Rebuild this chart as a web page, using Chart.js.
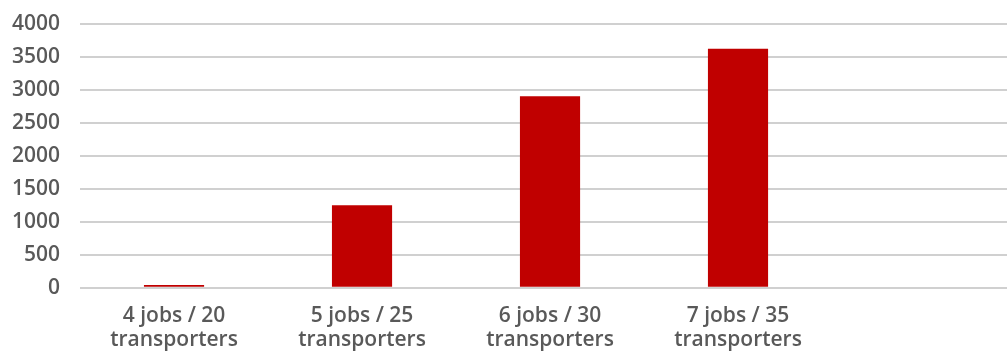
<!DOCTYPE html>
<html>
<head>
<meta charset="utf-8">
<script src="https://cdn.jsdelivr.net/npm/chart.js@4"></script>
<style>
  html, body { margin: 0; padding: 0; background: #fff; overflow: hidden; width: 1007px; height: 351px; }
  #wrap { width: 1038px; height: 369px; position: relative; margin-left: -18px; margin-top: -9px; }
</style>
</head>
<body>
<div id="wrap"><canvas id="grafico"></canvas></div>
<script>
// categorias (la quinta queda vacia, como en el original)
const categorias = [
  ['4 jobs / 20', 'transporters'],
  ['5 jobs / 25', 'transporters'],
  ['6 jobs / 30', 'transporters'],
  ['7 jobs / 35', 'transporters'],
  ''
];
const valores = [40, 1250, 2900, 3620, null];
const ticksY = [0, 500, 1000, 1500, 2000, 2500, 3000, 3500, 4000];

new Chart(document.getElementById('grafico'), {
  type: 'bar',
  data: {
    labels: categorias,
    datasets: [{
      data: valores,
      backgroundColor: '#c00000',
      borderWidth: 0,
      barPercentage: 0.32,
      categoryPercentage: 1
    }]
  },
  options: {
    responsive: true,
    maintainAspectRatio: false,
    animation: false,
    layout: { padding: { top: 5, left: 10, right: 0, bottom: 0 } },
    plugins: {
      legend: { display: false },
      tooltip: { enabled: false }
    },
    scales: {
      x: {
        grid: { display: false },
        border: { display: false },
        ticks: {
          color: '#595959',
          padding: 8,
          maxRotation: 0,
          autoSkip: false,
          font: { family: 'Open Sans', size: 21, weight: '600', lineHeight: 1.15 }
        }
      },
      y: {
        min: 0,
        max: 4000,
        afterBuildTicks: (axis) => { axis.ticks = ticksY.map(v => ({ value: v })); },
        grid: { color: '#d0d0d0', lineWidth: 2, drawTicks: false },
        border: { display: false },
        ticks: {
          color: '#595959',
          padding: 20,
          callback: (v) => String(v),
          font: { family: 'Open Sans', size: 21, weight: '600' }
        }
      }
    }
  }
});
</script>
</body>
</html>
